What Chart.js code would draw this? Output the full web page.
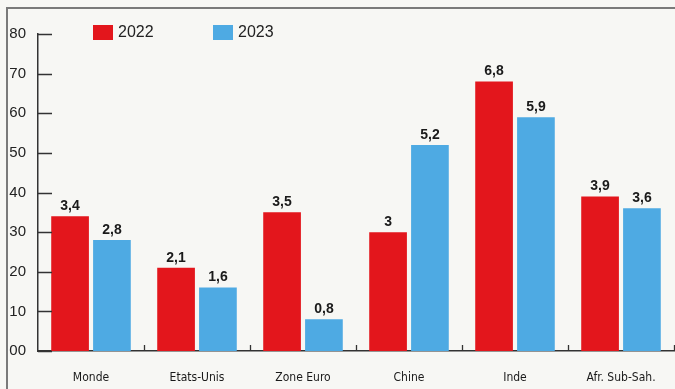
<!DOCTYPE html>
<html>
<head>
<meta charset="utf-8">
<script src="https://cdn.jsdelivr.net/npm/chart.js@4/dist/chart.umd.min.js"></script>
<style>
  html, body { margin: 0; padding: 0; background: #f7f7f4; }
  #wrap { position: relative; width: 675px; height: 389px; overflow: hidden; }
  #frame { position: absolute; left: 6px; top: 7px; width: 700px; height: 400px;
           border-left: 2px solid #7a7a7a; border-top: 2px solid #7a7a7a; }
  canvas { position: absolute; left: 0; top: 0; }
  .lg { position: absolute; top: 23px; font-family: "Liberation Sans", Arial, sans-serif;
        font-size: 16px; color: #222; display: flex; align-items: center; }
  .lg span.box { display: inline-block; width: 20px; height: 15px; margin-right: 5px; }
</style>
</head>
<body>
<div id="wrap">
  <div id="frame"></div>
  <canvas id="c" width="675" height="389"></canvas>
  <div id="legend"></div>
</div>
<script>
const categories = ["Monde", "Etats-Unis", "Zone Euro", "Chine", "Inde", "Afr. Sub-Sah."];
const seriesNames = ["2022", "2023"];
const values2022 = [3.4, 2.1, 3.5, 3.0, 6.8, 3.9];
const values2023 = [2.8, 1.6, 0.8, 5.2, 5.9, 3.6];
const yTickLabels = ["00", "10", "20", "30", "40", "50", "60", "70", "80"];
const colors = ["#e3161c", "#4eaae3"];

// HTML legend
const legendX = [93, 213];
const lg = document.getElementById('legend');
seriesNames.forEach((n, i) => {
  const d = document.createElement('div');
  d.className = 'lg';
  d.style.left = legendX[i] + 'px';
  d.innerHTML = '<span class="box" style="background:' + colors[i] + '"></span>' + n;
  lg.appendChild(d);
});

const fmt = v => String(v).replace('.', ',');

const inwardTicks = {
  id: 'inwardTicks',
  afterDatasetsDraw(chart) {
    const ctx = chart.ctx;
    const y = chart.scales.y, x = chart.scales.x;
    ctx.save();
    ctx.strokeStyle = '#333';
    ctx.lineWidth = 1.3;
    ctx.beginPath();
    for (let i = 0; i < yTickLabels.length; i++) {
      const py = Math.round(y.getPixelForValue(i)) + 0.5;
      ctx.moveTo(x.left, py);
      ctx.lineTo(x.left + 14, py);
    }
    for (let i = 1; i <= categories.length; i++) {
      const px = Math.round(x.getPixelForValue(i - 0.5)) + 0.5;
      ctx.moveTo(px, x.top);
      ctx.lineTo(px, x.top - 6);
    }
    ctx.stroke();
    // value labels
    ctx.fillStyle = '#1a1a1a';
    ctx.font = 'bold 14px "Liberation Sans", Arial, sans-serif';
    ctx.textAlign = 'center';
    ctx.textBaseline = 'bottom';
    chart.data.datasets.forEach((ds, di) => {
      chart.getDatasetMeta(di).data.forEach((bar, i) => {
        ctx.fillText(fmt(ds.data[i]), bar.x, bar.y - 3);
      });
    });
    ctx.restore();
  }
};

new Chart(document.getElementById('c'), {
  type: 'bar',
  data: {
    labels: categories,
    datasets: [
      { label: seriesNames[0], data: values2022, backgroundColor: colors[0] },
      { label: seriesNames[1], data: values2023, backgroundColor: colors[1] }
    ]
  },
  options: {
    responsive: false,
    animation: false,
    devicePixelRatio: 1,
    layout: { padding: { top: 34, right: 1, left: 0, bottom: 0 } },
    datasets: { bar: { categoryPercentage: 0.79, barPercentage: 0.9 } },
    plugins: { legend: { display: false }, tooltip: { enabled: false } },
    scales: {
      x: {
        grid: { display: false, drawTicks: false },
        border: { display: true, color: '#333', width: 1.5 },
        ticks: { color: '#1a1a1a', padding: 20, maxRotation: 0, autoSkip: false,
                 font: { family: '"DejaVu Sans Condensed", "Liberation Sans Narrow", sans-serif', size: 12 } },
        afterFit(s) { s.height = 38; s.paddingLeft = 0; s.paddingRight = 0; }
      },
      y: {
        min: 0, max: 8,
        grid: { display: false, drawTicks: false },
        border: { display: true, color: '#333', width: 1.5 },
        ticks: { stepSize: 1, color: '#222', padding: 12,
                 font: { family: '"Liberation Sans", Arial, sans-serif', size: 15 },
                 callback: (v, i) => yTickLabels[i] },
        afterFit(s) { s.width = 38; }
      }
    }
  },
  plugins: [inwardTicks]
});
</script>
</body>
</html>
